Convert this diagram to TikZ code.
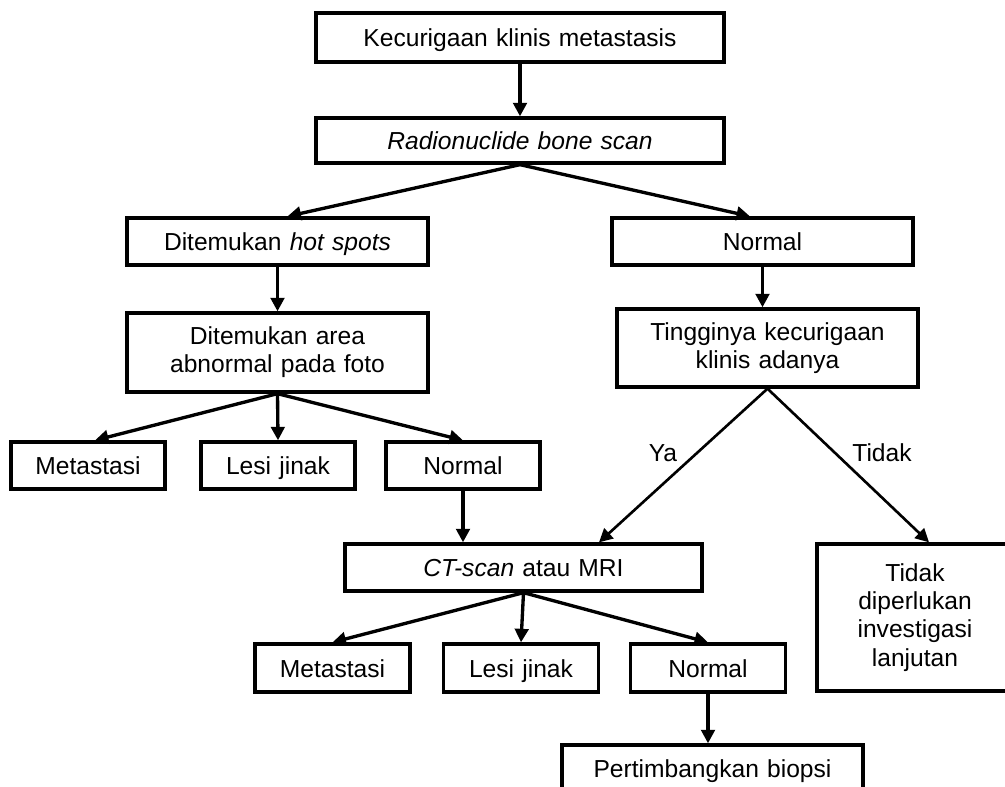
\documentclass[tikz,border=0pt]{standalone}
\usepackage{fontspec}
\setmainfont{Liberation Sans}
\usetikzlibrary{positioning,arrows.meta,calc}

\begin{document}
\begin{tikzpicture}[
  box/.style={draw, line width=1.9pt, align=center, text width=#1, minimum height=9.4mm, inner sep=0pt, font=\fontsize{14}{16}\selectfont},
  box/.default=58mm,
  bx/.style={box=#1, text height=13.6pt, text depth=3pt},
  bx/.default=58mm,
  ln/.style={line width=1.9pt, -{Triangle[length=2.7mm,width=2.7mm]}},
  lbl/.style={font=\fontsize{14}{16}\selectfont}
]
\useasboundingbox (0,0) rectangle (20.1,-15.74);
% main column
\node[bx=81.6mm, minimum height=9.8mm] (susp) at (10.40,-0.75) {Kecurigaan klinis metastasis};
\node[bx=81.6mm, minimum height=9mm] (scan) at (10.40,-2.81) {\textit{Radionuclide bone scan}};
% left branch
\node[bx=60.2mm] (hot) at (5.55,-4.83) {Ditemukan \textit{hot spots}};
\node[box=60.2mm, minimum height=15.8mm] (foto) at (5.55,-7.05) {Ditemukan area\\abnormal pada foto};
\node[bx=30.8mm] (meta1) at (1.76,-9.31) {Metastasi};
\node[bx=30.8mm] (lesi1) at (5.56,-9.31) {Lesi jinak};
\node[bx=30.8mm] (norm1) at (9.26,-9.31) {Normal};
% right branch
\node[bx=60.2mm] (norm) at (15.25,-4.83) {Normal};
\node[box=60.2mm, minimum height=15.6mm] (curiga) at (15.35,-6.96) {Tingginya kecurigaan\\klinis adanya};
\node[lbl] (ya) at (13.26,-9.06) {Ya};
\node[lbl] (tidak) at (17.64,-9.06) {Tidak};
\node[box=39.2mm, minimum height=29.4mm] (stop) at (18.30,-12.35) {Tidak\\diperlukan\\investigasi\\lanjutan\\[3pt]};
% lower part
\node[bx=71.4mm] (ct) at (10.47,-11.35) {\textit{CT-scan} atau MRI};
\node[bx=31mm, minimum height=9.6mm] (meta2) at (6.65,-13.36) {Metastasi};
\node[bx=31mm, minimum height=9.6mm] (lesi2) at (10.42,-13.36) {Lesi jinak};
\node[bx=31mm, minimum height=9.6mm] (norm2) at (14.16,-13.36) {Normal};
\node[bx=60.2mm] (biopsi) at (14.25,-15.37) {Pertimbangkan biopsi};
% connectors
\draw[ln] (susp) -- (scan);
\draw[ln] (scan.south) -- ([xshift=2mm]hot.north);
\draw[ln] (scan.south) -- ([xshift=-2.5mm]norm.north);
\draw[ln] (hot) -- (foto);
\draw[ln] (norm) -- (norm.south |- curiga.north);
\foreach \t/\s in {meta1/1.4mm,lesi1/0mm,norm1/0mm} {\draw[ln] (foto.south) -- ([xshift=\s]\t.north);}
\draw[ln] (norm1) -- (norm1.south |- ct.north);
\draw[ln, line width=1.5pt] (curiga.south) -- ([xshift=15.1mm]ct.north);
\draw[ln, line width=1.5pt] (curiga.south) -- ([xshift=2.8mm]stop.north);
\foreach \t in {meta2,lesi2,norm2} {\draw[ln] (ct.south) -- (\t.north);}
\draw[ln] (norm2) -- (norm2.south |- biopsi.north);
\end{tikzpicture}
\end{document}
